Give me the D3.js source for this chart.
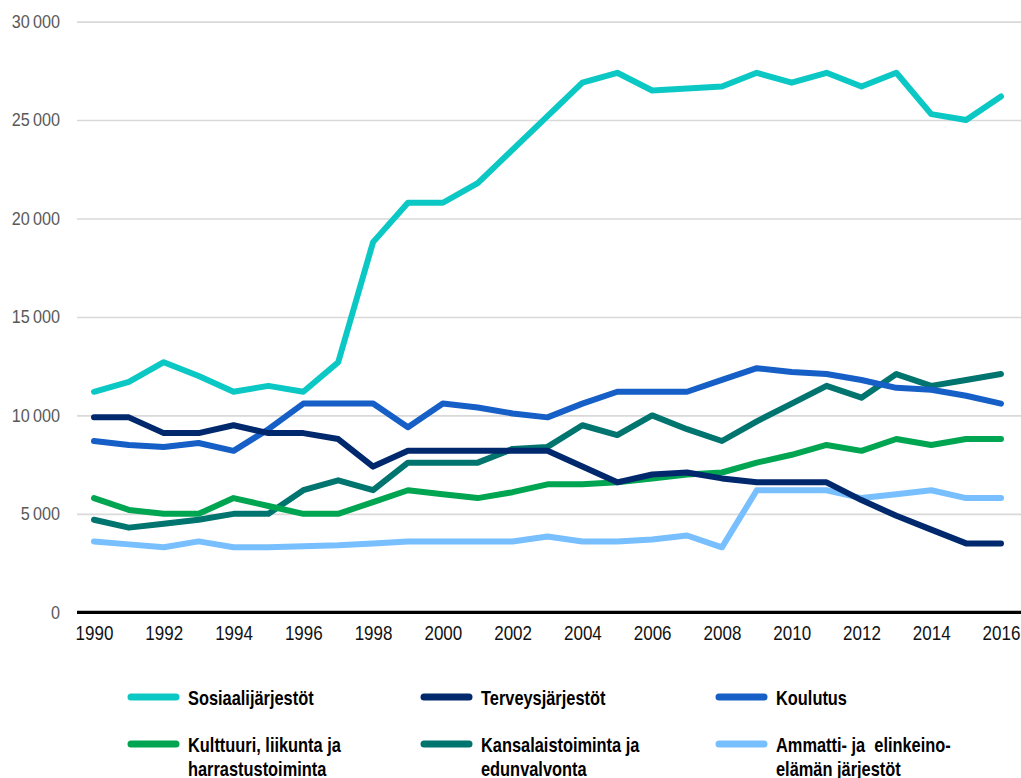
<!DOCTYPE html>
<html>
<head>
<meta charset="utf-8">
<script src="https://cdn.jsdelivr.net/npm/d3@7/dist/d3.min.js"></script>
<style>
	body { margin: 0; background: #fff; }
	text { font-family: "Liberation Sans Narrow", "Liberation Sans", Arial, sans-serif; }
</style>
</head>
<body>
<script>
var w = 1021, h = 778;

var years = d3.range(1990, 2017);
var sosiaali = [11200, 11700, 12700, 12000, 11200, 11500, 11200, 12700, 18800, 20800, 20800, 21800, 23500, 25200, 26900, 27400, 26500, 26600, 26700, 27400, 26900, 27400, 26700, 27400, 25300, 25000, 26200];
var terveys = [9900, 9900, 9100, 9100, 9500, 9100, 9100, 8800, 7400, 8200, 8200, 8200, 8200, 8200, 7400, 6600, 7000, 7100, 6800, 6600, 6600, 6600, 5700, 4900, 4200, 3500, 3500];
var koulutus = [8700, 8500, 8400, 8600, 8200, 9300, 10600, 10600, 10600, 9400, 10600, 10400, 10100, 9900, 10600, 11200, 11200, 11200, 11800, 12400, 12200, 12100, 11800, 11400, 11300, 11000, 10600];
var kulttuuri = [5800, 5200, 5000, 5000, 5800, 5400, 5000, 5000, 5600, 6200, 6000, 5800, 6100, 6500, 6500, 6600, 6800, 7000, 7100, 7600, 8000, 8500, 8200, 8800, 8500, 8800, 8800];
var kansalais = [4700, 4300, 4500, 4700, 5000, 5000, 6200, 6700, 6200, 7600, 7600, 7600, 8300, 8400, 9500, 9000, 10000, 9300, 8700, 9700, 10600, 11500, 10900, 12100, 11500, 11800, 12100];
var ammatti = [3600, 3450, 3300, 3600, 3300, 3300, 3350, 3400, 3500, 3600, 3600, 3600, 3600, 3850, 3600, 3600, 3700, 3900, 3300, 6200, 6200, 6200, 5800, 6000, 6200, 5800, 5800];

var seriesNames = [["Sosiaalijärjestöt"], ["Terveysjärjestöt"], ["Koulutus"],
	["Kulttuuri, liikunta ja", "harrastustoiminta"], ["Kansalaistoiminta ja", "edunvalvonta"], ["Ammatti- ja  elinkeino-", "elämän järjestöt"]];
var seriesValues = [sosiaali, terveys, koulutus, kulttuuri, kansalais, ammatti];
var seriesColors = ["#0cc8c4", "#00286c", "#155fc6", "#00a551", "#00746f", "#78bfff"];

var yTicks = [0, 5000, 10000, 15000, 20000, 25000, 30000];
var xTicks = d3.range(1990, 2017, 2);

var x = d3.scaleLinear().domain([1990, 2016]).range([94, 1001]);
var y = d3.scaleLinear().domain([0, 30000]).range([612.3, 21.6]);
var fmt = d3.formatLocale({ decimal: ",", thousands: "\u2009", grouping: [3], currency: ["", " €"] }).format(",d");

// narrow the glyphs so the text looks condensed
function squeeze(sel, k) {
	sel.each(function() {
		var len = this.getComputedTextLength();
		d3.select(this)
			.attr("textLength", len * k)
			.attr("lengthAdjust", "spacingAndGlyphs");
	});
}

var svg = d3.select("body")
		.append("svg")
		.attr("width", w)
		.attr("height", h);

// gridlines + y labels
var yAxis = svg.append("g")
		.attr("transform", "translate(77,0)")
		.call(d3.axisLeft(y).tickValues(yTicks).tickSize(-(w - 77)).tickFormat(fmt).tickPadding(17));
yAxis.select(".domain").remove();
yAxis.selectAll(".tick line")
	.attr("stroke", "#d9d9d9")
	.attr("stroke-width", 1.6);
yAxis.selectAll(".tick text")
	.attr("fill", "#595959")
	.attr("font-size", 18)
	.call(squeeze, 0.9);

// x axis
var xAxis = svg.append("g")
		.attr("transform", "translate(0," + y(0) + ")")
		.call(d3.axisBottom(x).tickValues(xTicks).tickSize(0).tickFormat(d3.format("d")).tickPadding(14));
xAxis.select(".domain").remove();
xAxis.selectAll(".tick text")
	.attr("fill", "#111")
	.attr("font-size", 20)
	.call(squeeze, 0.85);
svg.append("line")
	.attr("x1", 77)
	.attr("x2", w)
	.attr("y1", y(0))
	.attr("y2", y(0))
	.attr("stroke", "#000")
	.attr("stroke-width", 3.3);

// lines
var line = d3.line()
		.x(function(d, i) { return x(years[i]); })
		.y(function(d) { return y(d); });
for (var i = seriesValues.length - 1; i >= 0; i--) {
	svg.append("path")
		.datum(seriesValues[i])
		.attr("d", line)
		.attr("fill", "none")
		.attr("stroke", seriesColors[i])
		.attr("stroke-width", 6)
		.attr("stroke-linejoin", "round")
		.attr("stroke-linecap", "round");
}

// legend
var legX = [130, 423, 718], legY = [697, 744];
for (var i = 0; i < seriesNames.length; i++) {
	var lx = legX[i % 3], ly = legY[Math.floor(i / 3)];
	svg.append("line")
		.attr("x1", lx + 1)
		.attr("x2", lx + 46)
		.attr("y1", ly)
		.attr("y2", ly)
		.attr("stroke", seriesColors[i])
		.attr("stroke-width", 7)
		.attr("stroke-linecap", "round");
	var t = svg.append("text")
			.attr("x", lx + 58)
			.attr("y", ly)
			.attr("font-size", 21)
			.attr("font-weight", "bold")
			.attr("fill", "#000");
	seriesNames[i].forEach(function(s, k) {
		t.append("tspan")
			.attr("x", lx + 58)
			.attr("dy", k == 0 ? "0.36em" : 24)
			.style("white-space", "pre")
			.text(s);
	});
	t.selectAll("tspan").call(squeeze, 0.78);
}
</script>
</body>
</html>
